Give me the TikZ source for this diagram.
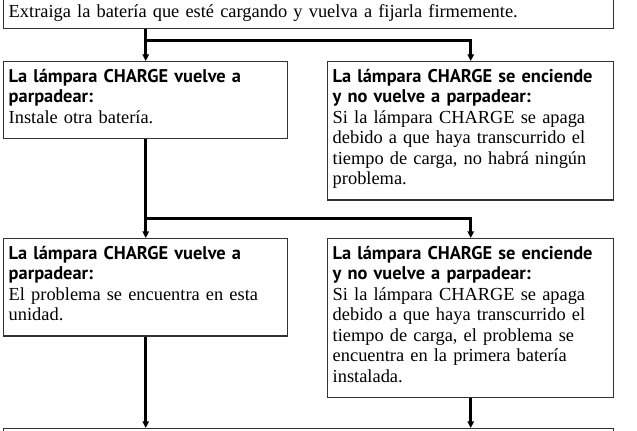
\documentclass[tikz,border=0pt]{standalone}
\usepackage{fontspec}
\setmainfont{Liberation Serif}
\newfontfamily\headfont{PT Sans}
\usetikzlibrary{arrows.meta}
\newcommand{\topstrut}{\rule{0pt}{15.4pt}}
\newcommand{\botstrut}{\rule[-11.2pt]{0pt}{11.2pt}}
\newcommand{\hd}[1]{{\headfont\bfseries #1}}
\begin{document}
\begin{tikzpicture}
      [x=0.75pt, y=-0.75pt,
      frame/.style={draw=black!80, line width=1.1pt, align=left,
        inner xsep=3.75pt, inner ysep=0pt, font=\fontsize{13.8}{15.4}\selectfont},
      box/.style={frame, anchor=north west,
        execute at begin node=\topstrut, execute at end node=\botstrut},
      topbox/.style={frame, anchor=south west, text width=450pt,
        execute at begin node=\rule{0pt}{14.3pt},
        execute at end node=\rule[-8.2pt]{0pt}{8.2pt}},
      narrow/.style={box, text width=205.5pt},
      wide/.style={box, text width=207pt},
      conn/.style={line width=2.25pt, -{Triangle[length=5pt,width=4.8pt]}},
      ]
      \useasboundingbox (0,0) rectangle (637,430);
      \coordinate (s1) at (0,40);
      \coordinate (s2) at (0,218);
      \node[topbox] (start) at (3,29)
        {Extraiga la batería que esté cargando y vuelva a fijarla firmemente.};
      \node[narrow] (blink1) at (3,61)
        {\hd{La lámpara CHARGE vuelve a}\\\hd{parpadear:}\\Instale otra batería.};
      \node[wide] (lit1) at (327,61)
        {\hd{La lámpara CHARGE se enciende}\\\hd{y no vuelve a parpadear:}\\
         Si la lámpara CHARGE se apaga\\debido a que haya transcurrido el\\
         tiempo de carga, no habrá ningún\\problema.};
      \node[narrow] (blink2) at (3,238)
        {\hd{La lámpara CHARGE vuelve a}\\\hd{parpadear:}\\
         El problema se encuentra en esta\\unidad.};
      \node[wide] (lit2) at (327,238)
        {\hd{La lámpara CHARGE se enciende}\\\hd{y no vuelve a parpadear:}\\
         Si la lámpara CHARGE se apaga\\debido a que haya transcurrido el\\
         tiempo de carga, el problema se\\encuentra en la primera batería\\
         instalada.};
      \node[box, text width=450pt] (end) at (3,428) {};
      % branches
      \draw[conn] (start.south -| blink1.north) -- (blink1.north);
      \draw[conn] (s1 -| blink1.north) -| (lit1.north);
      \draw[conn] (blink1.south) -- (blink2.north);
      \draw[conn] (s2 -| blink1.north) -| (lit2.north);
      \draw[conn] (blink2.south) -- (end.north -| blink2.south);
      \draw[conn] (lit2.south) -- (end.north -| lit2.south);
\end{tikzpicture}
\end{document}
